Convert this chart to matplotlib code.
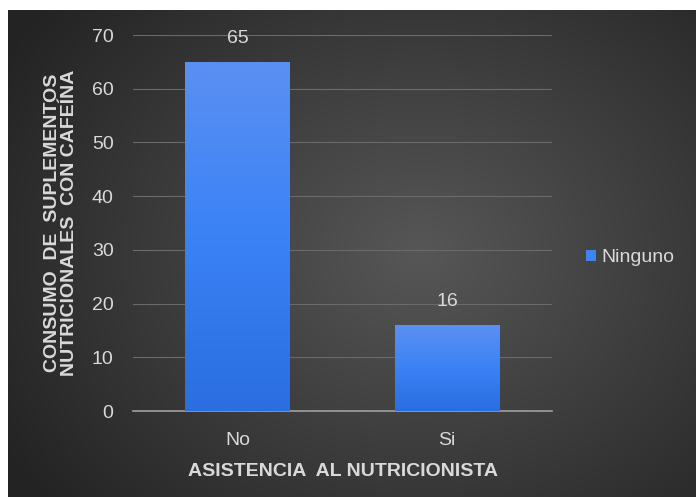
import numpy as np
import matplotlib.pyplot as plt

# datos del grafico
categorias = ['No', 'Si']
valores = [65, 16]
serie = 'Ninguno'

plt.rcParams['font.family'] = ['Liberation Sans', 'DejaVu Sans']
txt = '#d9d9d9'

fig = plt.figure(figsize=(6.96, 4.97), dpi=100)
fig.patch.set_facecolor('white')

# fondo oscuro con degradado radial
bg = fig.add_axes([8/696, 0, 1 - 8/696, 1 - 10/497])
yy, xx = np.mgrid[0:1:300j, 0:1:400j]
r = np.sqrt(((xx - 0.6) / 0.7)**2 + ((yy - 0.5) / 0.8)**2)
r = np.clip(r, 0, 1)
lum = 0.34 - 0.2 * r
bg.imshow(np.dstack([lum, lum, lum]), aspect='auto', extent=[0, 1, 0, 1])
bg.axis('off')

ax = fig.add_axes([133/696, 1 - 411/497, (552 - 133)/696, (411 - 35)/497])
ax.patch.set_alpha(0)
x = np.arange(len(categorias))
barras = ax.bar(x, valores, width=0.5, color='#3f83f0', label=serie, zorder=3)

# degradado vertical en las barras
grad = np.linspace(0, 1, 256).reshape(-1, 1)
cmap = plt.matplotlib.colors.LinearSegmentedColormap.from_list('b', ['#2a6ee0', '#3b82f6', '#5b90f2'])
for b in barras:
    im = ax.imshow(grad, cmap=cmap, origin='lower', aspect='auto', zorder=4,
                   extent=[b.get_x(), b.get_x() + b.get_width(), 0, b.get_height()])
    im.set_clip_path(b)

for xi, v in zip(x, valores):
    ax.text(xi, v + 4.4, str(v), ha='center', va='center', color=txt, fontsize=14, zorder=5)

ax.set_xlim(-0.5, 1.5)
ax.set_ylim(0, 70)
ax.set_yticks(range(0, 71, 10))
ax.set_xticks(x)
ax.set_xticklabels(categorias)
ax.grid(axis='y', color='#6a6a6a', linewidth=0.8, zorder=0)
for s in ['top', 'right', 'left']:
    ax.spines[s].set_visible(False)
ax.spines['bottom'].set_color('#a0a0a0')
ax.spines['bottom'].set_linewidth(1.2)
ax.tick_params(length=0, colors=txt, labelsize=14)
ax.tick_params(axis='y', pad=14)
ax.tick_params(axis='x', pad=15)

ax.set_xlabel('ASISTENCIA  AL NUTRICIONISTA', color=txt, fontsize=14, fontweight='bold', labelpad=10)
ax.set_ylabel('CONSUMO  DE  SUPLEMENTOS\nNUTRICIONALES  CON CAFEÍNA', color=txt, fontsize=14,
              fontweight='bold', labelpad=10, linespacing=1.0)

ax.legend(loc='center left', bbox_to_anchor=(1.04, 0.407), frameon=False, labelcolor=txt,
          fontsize=14, handlelength=0.5, handleheight=0.5, handletextpad=0.3)

fig.savefig('out.png', dpi=100, facecolor=fig.get_facecolor())
